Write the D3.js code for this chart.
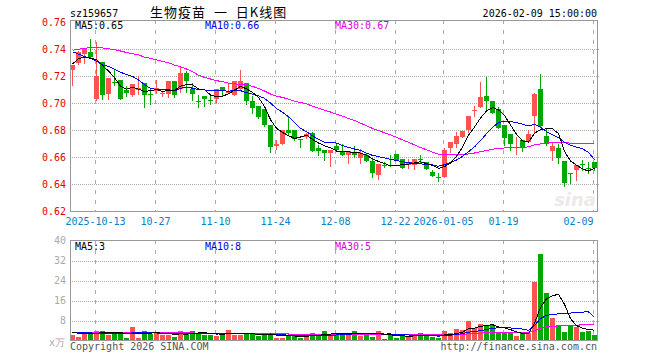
<!DOCTYPE html>
<html>
<head>
<meta charset="utf-8">
<script src="https://cdn.jsdelivr.net/npm/d3@7"></script>
<style>
    body { margin: 0; background: #fff; }
    svg { display: block; }
    text { font-family: "DejaVu Sans Mono", monospace; font-size: 10px; }
</style>
</head>
<body>
<div id="chart"></div>
<script>

// DATA

var dates = [
    '2025-09-29', '2025-09-30', '2025-10-09', '2025-10-10',
    '2025-10-13', '2025-10-14', '2025-10-15', '2025-10-16', '2025-10-17',
    '2025-10-20', '2025-10-21', '2025-10-22', '2025-10-23', '2025-10-24',
    '2025-10-27', '2025-10-28', '2025-10-29', '2025-10-30', '2025-10-31',
    '2025-11-03', '2025-11-04', '2025-11-05', '2025-11-06', '2025-11-07',
    '2025-11-10', '2025-11-11', '2025-11-12', '2025-11-13', '2025-11-14',
    '2025-11-17', '2025-11-18', '2025-11-19', '2025-11-20', '2025-11-21',
    '2025-11-24', '2025-11-25', '2025-11-26', '2025-11-27', '2025-11-28',
    '2025-12-01', '2025-12-02', '2025-12-03', '2025-12-04', '2025-12-05',
    '2025-12-08', '2025-12-09', '2025-12-10', '2025-12-11', '2025-12-12',
    '2025-12-15', '2025-12-16', '2025-12-17', '2025-12-18', '2025-12-19',
    '2025-12-22', '2025-12-23', '2025-12-24', '2025-12-25', '2025-12-26',
    '2025-12-29', '2025-12-30', '2025-12-31',
    '2026-01-05', '2026-01-06', '2026-01-07', '2026-01-08', '2026-01-09',
    '2026-01-12', '2026-01-13', '2026-01-14', '2026-01-15', '2026-01-16',
    '2026-01-19', '2026-01-20', '2026-01-21', '2026-01-22', '2026-01-23',
    '2026-01-26', '2026-01-27', '2026-01-28', '2026-01-29', '2026-01-30',
    '2026-02-02', '2026-02-03', '2026-02-04', '2026-02-05', '2026-02-06',
    '2026-02-09'
];

var open = [
    0.7246, 0.7295, 0.7363, 0.7380, 0.7027, 0.7303, 0.7071, 0.7156, 0.7173, 0.7100,
    0.7063, 0.7095, 0.7149, 0.7070, 0.7088, 0.7066, 0.7071, 0.7163, 0.7101, 0.7220,
    0.7101, 0.7012, 0.7056, 0.7024, 0.7032, 0.7120, 0.7076, 0.7063, 0.7107, 0.7149,
    0.7014, 0.6978, 0.6955, 0.6839, 0.6683, 0.6700, 0.6805, 0.6805, 0.6735, 0.6749,
    0.6780, 0.6671, 0.6656, 0.6632, 0.6680, 0.6639, 0.6615, 0.6639, 0.6598, 0.6615,
    0.6571, 0.6468, 0.6543, 0.6543, 0.6627, 0.6585, 0.6546, 0.6541, 0.6585, 0.6566,
    0.6488, 0.6453, 0.6456, 0.6668, 0.6695, 0.6749, 0.6805, 0.6939, 0.6968, 0.7054,
    0.7017, 0.6956, 0.6841, 0.6773, 0.6668, 0.6729, 0.6712, 0.6907, 0.7102, 0.6754,
    0.6646, 0.6668, 0.6573, 0.6487, 0.6505, 0.6547, 0.6520, 0.6566
];

var high = [
    0.7283, 0.7388, 0.7400, 0.7473, 0.7453, 0.7303, 0.7186, 0.7241, 0.7173, 0.7124,
    0.7144, 0.7197, 0.7149, 0.7112, 0.7173, 0.7080, 0.7165, 0.7163, 0.7269, 0.7240,
    0.7146, 0.7059, 0.7056, 0.7051, 0.7107, 0.7120, 0.7142, 0.7166, 0.7246, 0.7149,
    0.7051, 0.6978, 0.6955, 0.6839, 0.6729, 0.6805, 0.6905, 0.6805, 0.6735, 0.6778,
    0.6785, 0.6688, 0.6656, 0.6656, 0.6700, 0.6700, 0.6644, 0.6680, 0.6663, 0.6627,
    0.6590, 0.6549, 0.6566, 0.6615, 0.6627, 0.6585, 0.6590, 0.6585, 0.6615, 0.6566,
    0.6505, 0.6480, 0.6671, 0.6710, 0.6790, 0.6793, 0.6902, 0.6980, 0.7156, 0.7195,
    0.7017, 0.6968, 0.6841, 0.6773, 0.6749, 0.6729, 0.6802, 0.7078, 0.7212, 0.6810,
    0.6705, 0.6700, 0.6573, 0.6487, 0.6541, 0.6583, 0.6566, 0.6566
];

var low = [
    0.7137, 0.7290, 0.7295, 0.7344, 0.7020, 0.7027, 0.7027, 0.7137, 0.7027, 0.7056,
    0.7051, 0.7071, 0.6973, 0.6990, 0.7076, 0.7050, 0.7047, 0.7047, 0.7084, 0.7084,
    0.7022, 0.6973, 0.6978, 0.6990, 0.7010, 0.7051, 0.7076, 0.7063, 0.7100, 0.6990,
    0.6929, 0.6890, 0.6830, 0.6639, 0.6663, 0.6700, 0.6775, 0.6724, 0.6676, 0.6744,
    0.6646, 0.6615, 0.6583, 0.6534, 0.6651, 0.6615, 0.6554, 0.6602, 0.6559, 0.6571,
    0.6451, 0.6437, 0.6529, 0.6536, 0.6578, 0.6522, 0.6517, 0.6510, 0.6566, 0.6510,
    0.6461, 0.6427, 0.6456, 0.6639, 0.6676, 0.6749, 0.6785, 0.6907, 0.6968, 0.6944,
    0.6924, 0.6815, 0.6688, 0.6656, 0.6627, 0.6646, 0.6712, 0.6785, 0.6834, 0.6688,
    0.6578, 0.6559, 0.6388, 0.6412, 0.6432, 0.6505, 0.6485, 0.6505
];

var close = [
    0.7283, 0.7380, 0.7398, 0.7344, 0.7197, 0.7063, 0.7186, 0.7150, 0.7034, 0.7076,
    0.7144, 0.7112, 0.7063, 0.7066, 0.7112, 0.7073, 0.7163, 0.7059, 0.7220, 0.7165,
    0.7071, 0.7010, 0.7032, 0.7020, 0.7107, 0.7088, 0.7093, 0.7166, 0.7166, 0.7014,
    0.6961, 0.6897, 0.6839, 0.6676, 0.6700, 0.6805, 0.6780, 0.6732, 0.6730, 0.6773,
    0.6646, 0.6646, 0.6632, 0.6656, 0.6651, 0.6615, 0.6644, 0.6615, 0.6632, 0.6571,
    0.6480, 0.6549, 0.6541, 0.6540, 0.6578, 0.6522, 0.6566, 0.6585, 0.6582, 0.6510,
    0.6461, 0.6451, 0.6651, 0.6710, 0.6759, 0.6793, 0.6902, 0.6949, 0.7046, 0.7017,
    0.6924, 0.6815, 0.6744, 0.6695, 0.6673, 0.6676, 0.6773, 0.7066, 0.6834, 0.6700,
    0.6680, 0.6595, 0.6407, 0.6483, 0.6541, 0.6544, 0.6515, 0.6517
];

// Volume, in 10k lots
var volume = [
    2.3, 1.6, 3.6, 3.2, 3.9, 4.0, 2.3, 3.2, 3.0, 1.2,
    5.6, 1.2, 4.0, 2.7, 3.6, 2.3, 2.3, 1.6, 4.0, 2.7,
    4.0, 3.2, 2.3, 2.3, 1.9, 3.2, 4.3, 2.3, 2.3, 2.7,
    2.7, 1.9, 2.3, 3.2, 1.2, 1.2, 2.0, 2.0, 1.2, 2.0,
    3.2, 2.0, 4.0, 2.1, 3.2, 3.0, 3.0, 3.9, 2.0, 3.2,
    1.6, 3.9, 0.7, 2.5, 1.2, 2.0, 2.0, 2.0, 3.1, 2.1,
    1.45, 1.1, 3.9, 3.1, 4.8, 4.3, 7.9, 5.1, 6.7, 6.2,
    6.2, 3.4, 3.2, 3.1, 1.9, 3.0, 3.1, 23.6, 34.8, 19.1,
    9.1, 6.4, 3.5, 5.9, 5.5, 3.5, 3.9, 2.3
];

// Moving average values at the left edge, where the window reaches back
// before the first visible day
var ma5Head  = [0.7288, 0.7330, 0.7337, 0.7332];
var ma10Head = [0.7380, 0.7362, 0.7344, 0.7333, 0.7310, 0.7281, 0.7272, 0.7250, 0.7228];
var ma30Head = [
    0.7390, 0.7398, 0.7405, 0.7411, 0.7412, 0.7408, 0.7402, 0.7394, 0.7385, 0.7374,
    0.7365, 0.7356, 0.7340, 0.7330, 0.7320, 0.7308, 0.7298, 0.7281, 0.7269, 0.7252,
    0.7232, 0.7207, 0.7190, 0.7178, 0.7166, 0.7158, 0.7148, 0.7142, 0.7138
];

var volMa5Head  = [3.4, 3.0, 2.8, 2.8];
var volMa10Head = [3.3, 3.2, 3.1, 3.1, 3.0, 3.0, 3.0, 2.9, 2.9];
var volMa30Head = [
    3.4, 3.4, 3.4, 3.4, 3.3, 3.3, 3.3, 3.3, 3.3, 3.2,
    3.2, 3.2, 3.2, 3.2, 3.2, 3.1, 3.1, 3.1, 3.1, 3.1,
    3.1, 3.0, 3.0, 3.0, 3.0, 3.0, 3.0, 2.9, 2.9
];

var priceTicks = [0.62, 0.64, 0.66, 0.68, 0.70, 0.72, 0.74, 0.76];
var volumeTicks = [8, 16, 24, 32, 40];

var dateTicks = ['2025-10-13', '2025-10-27', '2025-11-10', '2025-11-24', '2025-12-08',
                 '2025-12-22', '2026-01-05', '2026-01-19', '2026-02-09'];
var dateTickLabels = ['2025-10-13', '10-27', '11-10', '11-24', '12-08',
                      '12-22', '2026-01-05', '01-19', '02-09'];


// HELPERS

// Moving average over n days, falling back to the read head values
function movingAverage( values, n, head ) {
    return values.map( function( v, i ) {
        if ( i < n - 1 ) {
            return head[i];
        }
        return d3.mean( values.slice( i - n + 1, i + 1 ) );
    } );
}


// LAYOUT

var width = 660;
var height = 360;

var plotLeft = 70;
var plotRight = 597;

var priceTop = 20;
var priceBottom = 211;
var volTop = 240;
var volBottom = 340;

var upColor = '#ff5252';
var downColor = '#00a800';
var gridColor = '#aaaaaa';
var frameColor = '#999999';

var svg = d3.select( '#chart' ).append( 'svg' )
            .attr( 'width', width )
            .attr( 'height', height );

var x = d3.scalePoint()
            .domain( dates )
            .range( [72.5, 594.5] );

var yPrice = d3.scaleLinear()
                .domain( [0.62, 0.76] )
                .range( [211.4, 21.9] );

var yVol = d3.scaleLinear()
                .domain( [0, 40] )
                .range( [340.7, 240.7] );

function gridX( d ) {
    return Math.round( x( d ) - 1.5 ) + 0.5;
}


// GRID

var grid = svg.append( 'g' ).attr( 'class', 'grid' );

// Vertical dashed lines through both panels
[[priceTop, priceBottom], [volTop, volBottom]].forEach( function( span ) {
    grid.selectAll( null )
        .data( dateTicks )
        .enter().append( 'line' )
            .attr( 'x1', gridX )
            .attr( 'x2', gridX )
            .attr( 'y1', span[0] )
            .attr( 'y2', span[1] )
            .attr( 'stroke', gridColor )
            .attr( 'stroke-dasharray', '4,6' );
} );

grid.selectAll( null )
    .data( priceTicks.slice( 1, -1 ) )
    .enter().append( 'line' )
        .attr( 'x1', plotLeft )
        .attr( 'x2', plotRight + 2 )
        .attr( 'y1', function( d ) { return Math.round( yPrice( d ) ) + 0.5; } )
        .attr( 'y2', function( d ) { return Math.round( yPrice( d ) ) + 0.5; } )
        .attr( 'stroke', gridColor )
        .attr( 'stroke-dasharray', '1,1' );

grid.selectAll( null )
    .data( volumeTicks.slice( 0, -1 ) )
    .enter().append( 'line' )
        .attr( 'x1', plotLeft )
        .attr( 'x2', plotRight + 2 )
        .attr( 'y1', function( d ) { return Math.round( yVol( d ) ) + 0.5; } )
        .attr( 'y2', function( d ) { return Math.round( yVol( d ) ) + 0.5; } )
        .attr( 'stroke', gridColor )
        .attr( 'stroke-dasharray', '1,1' );


// WATERMARK

svg.append( 'text' )
    .attr( 'x', 596 )
    .attr( 'y', 206 )
    .attr( 'text-anchor', 'end' )
    .style( 'font-family', '"DejaVu Sans", sans-serif' )
    .style( 'font-size', '18px' )
    .style( 'font-style', 'italic' )
    .style( 'font-weight', 'bold' )
    .attr( 'fill', '#efe8e8' )
    .text( 'sina' );


// CANDLES

var idx = d3.range( dates.length );

function isUp( i ) {
    return close[i] >= open[i];
}

var candles = svg.append( 'g' ).attr( 'class', 'candles' );

candles.selectAll( 'line' )
    .data( idx )
    .enter().append( 'line' )
        .attr( 'x1', function( i ) { return x( dates[i] ); } )
        .attr( 'x2', function( i ) { return x( dates[i] ); } )
        .attr( 'y1', function( i ) { return Math.round( yPrice( high[i] ) ); } )
        .attr( 'y2', function( i ) { return Math.round( yPrice( low[i] ) ) + 1; } )
        .attr( 'stroke', function( i ) { return isUp( i ) ? upColor : downColor; } );

candles.selectAll( 'rect' )
    .data( idx )
    .enter().append( 'rect' )
        .attr( 'x', function( i ) { return x( dates[i] ) - 2.5; } )
        .attr( 'width', 5 )
        .attr( 'y', function( i ) { return Math.round( yPrice( Math.max( open[i], close[i] ) ) ); } )
        .attr( 'height', function( i ) {
            var top = Math.round( yPrice( Math.max( open[i], close[i] ) ) );
            var bottom = Math.round( yPrice( Math.min( open[i], close[i] ) ) );
            return Math.max( 1, bottom - top );
        } )
        .attr( 'fill', function( i ) { return isUp( i ) ? upColor : downColor; } );


// VOLUME BARS

svg.append( 'g' ).attr( 'class', 'volume' )
    .selectAll( 'rect' )
    .data( idx )
    .enter().append( 'rect' )
        .attr( 'x', function( i ) { return x( dates[i] ) - 2.5; } )
        .attr( 'width', 5 )
        .attr( 'y', function( i ) { return Math.round( yVol( volume[i] ) ); } )
        .attr( 'height', function( i ) { return Math.round( yVol( 0 ) ) - Math.round( yVol( volume[i] ) ); } )
        .attr( 'fill', function( i ) { return isUp( i ) ? upColor : downColor; } );


// MOVING AVERAGES

var maSeries = [
    { values: movingAverage( close, 30, ma30Head ), scale: yPrice, color: '#ff00ff' },
    { values: movingAverage( close, 10, ma10Head ), scale: yPrice, color: '#0000ff' },
    { values: movingAverage( close, 5, ma5Head ), scale: yPrice, color: '#000000' },
    { values: movingAverage( volume, 30, volMa30Head ), scale: yVol, color: '#ff00ff' },
    { values: movingAverage( volume, 10, volMa10Head ), scale: yVol, color: '#0000ff' },
    { values: movingAverage( volume, 5, volMa5Head ), scale: yVol, color: '#000000' }
];

maSeries.forEach( function( s ) {
    var line = d3.line()
                .x( function( d, i ) { return x( dates[i] ); } )
                .y( function( d ) { return s.scale( d ); } );
    svg.append( 'path' )
        .datum( s.values )
        .attr( 'd', line )
        .attr( 'fill', 'none' )
        .attr( 'stroke', s.color )
        .attr( 'stroke-width', 1 )
        .attr( 'shape-rendering', 'crispEdges' );
} );


// FRAMES

[[priceTop, priceBottom], [volTop, volBottom]].forEach( function( span ) {
    svg.append( 'rect' )
        .attr( 'x', plotLeft + 0.5 )
        .attr( 'y', span[0] + 0.5 )
        .attr( 'width', plotRight - plotLeft )
        .attr( 'height', span[1] - span[0] )
        .attr( 'fill', 'none' )
        .attr( 'stroke', frameColor );
} );


// AXES

var yAxis = d3.axisLeft( yPrice )
                .tickValues( priceTicks )
                .tickFormat( d3.format( '.2f' ) )
                .tickSize( 0 )
                .tickPadding( 4 );

svg.append( 'g' )
    .attr( 'transform', 'translate(' + plotLeft + ',0)' )
    .call( yAxis )
    .call( function( g ) { g.select( '.domain' ).remove(); } )
    .selectAll( 'text' )
        .attr( 'fill', '#e60000' )
        .style( 'font-family', '"DejaVu Sans Mono", monospace' )
        .style( 'font-size', '10px' );

var volAxis = d3.axisLeft( yVol )
                .tickValues( volumeTicks )
                .tickSize( 0 )
                .tickPadding( 4 );

svg.append( 'g' )
    .attr( 'transform', 'translate(' + plotLeft + ',0)' )
    .call( volAxis )
    .call( function( g ) { g.select( '.domain' ).remove(); } )
    .selectAll( 'text' )
        .attr( 'fill', '#aaaaaa' )
        .style( 'font-family', '"DejaVu Sans Mono", monospace' )
        .style( 'font-size', '10px' );

var xAxis = d3.axisBottom( x )
                .tickValues( dateTicks )
                .tickFormat( function( d, i ) { return dateTickLabels[i]; } )
                .tickSize( 0 )
                .tickPadding( 7 );

var xAxisG = svg.append( 'g' )
                .attr( 'transform', 'translate(-1.5,' + priceBottom + ')' )
                .call( xAxis )
                .call( function( g ) { g.select( '.domain' ).remove(); } );

xAxisG.selectAll( 'text' )
    .attr( 'fill', '#0082c8' )
    .style( 'font-family', '"DejaVu Sans Mono", monospace' )
    .style( 'font-size', '10px' );

// Last label sits inside the frame
xAxisG.selectAll( '.tick:last-of-type text' )
    .attr( 'text-anchor', 'end' );


// LABELS

function label( txt, xPos, yPos, color, anchor ) {
    return svg.append( 'text' )
                .attr( 'x', xPos )
                .attr( 'y', yPos )
                .attr( 'fill', color )
                .attr( 'text-anchor', anchor || 'start' )
                .text( txt );
}

label( 'sz159657', 70, 16.5, '#000' );

// Title is wider spaced in the original
label( '生物疫苗 一 日K线图', 150, 17, '#000' )
    .style( 'font-family', '"Noto Sans CJK SC", sans-serif' )
    .style( 'font-size', '13px' )
    .style( 'letter-spacing', '1px' )
    .style( 'word-spacing', '4px' );

label( '2026-02-09 15:00:00', 597, 16.5, '#000', 'end' );

label( 'MA5:0.65', 75, 29, '#000' );
label( 'MA10:0.66', 205, 29, '#0000e0' );
label( 'MA30:0.67', 335, 29, '#e000e0' );

label( 'MA5:3', 75, 250, '#000' );
label( 'MA10:8', 205, 250, '#0000e0' );
label( 'MA30:5', 335, 250, '#e000e0' );

label( 'x万', 49, 346, '#aaaaaa' );

label( 'Copyright 2026 SINA.COM', 70, 349.5, '#555' );
label( 'http://finance.sina.com.cn', 597, 349.5, '#555', 'end' );

</script>
</body>
</html>
